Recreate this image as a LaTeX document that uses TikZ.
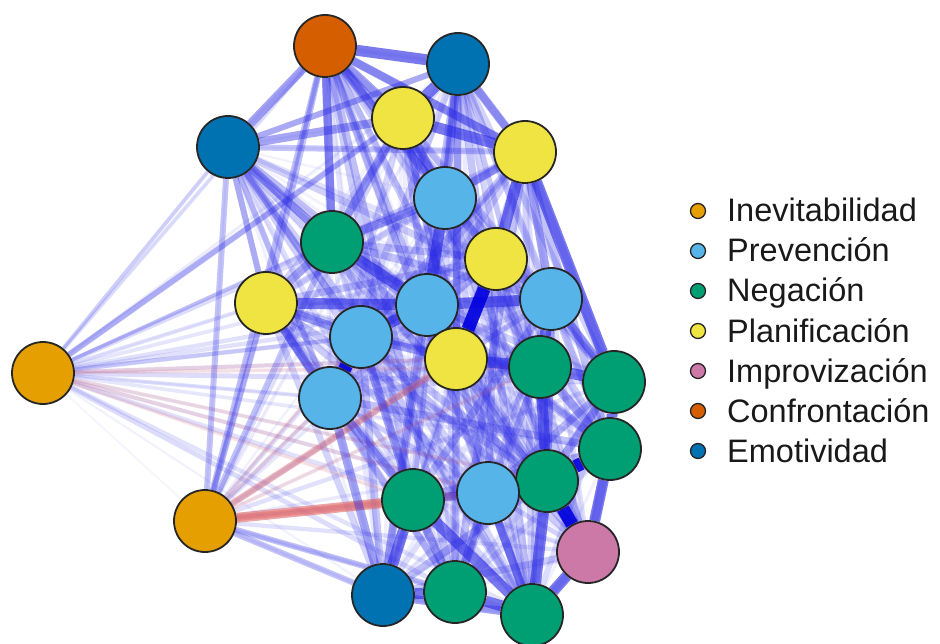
\documentclass[tikz,border=0pt]{standalone}
\usepackage{fontspec}
\setmainfont{Liberation Sans}
\definecolor{cinev}{HTML}{E69F00}
\definecolor{cprev}{HTML}{56B4E9}
\definecolor{cneg}{HTML}{009E73}
\definecolor{cplan}{HTML}{F0E442}
\definecolor{cimp}{HTML}{CC79A7}
\definecolor{cconf}{HTML}{D55E00}
\definecolor{cemo}{HTML}{0072B2}
\definecolor{eblue}{RGB}{40,40,228}
\definecolor{edark}{RGB}{0,0,222}
\definecolor{ered}{RGB}{225,105,105}
\pgfdeclarelayer{bg}
\pgfsetlayers{bg,main}
\tikzset{
  vtx/.style={circle, draw=black!85, line width=1.8pt, minimum size=62pt, inner sep=0pt},
  edgedark/.style={edark, line width=13pt, opacity=0.9},
  edgestrong/.style={eblue, line width=11pt, opacity=0.62},
  edgemed/.style={eblue, line width=8.5pt, opacity=0.42},
  edgelight/.style={eblue, line width=6pt, opacity=0.28},
  edgefaint/.style={eblue, line width=4pt, opacity=0.14},
  redthick/.style={ered, line width=10pt, opacity=0.6},
  redmed/.style={ered, line width=6.5pt, opacity=0.45},
  redlight/.style={ered, line width=4pt, opacity=0.16},
  legdot/.style={circle, draw=black!85, line width=1.3pt, minimum size=15pt, inner sep=0pt},
  legtxt/.style={text=black!90, inner sep=0pt, font=\fontsize{32.5}{38}\selectfont}
}
\begin{document}
\begin{tikzpicture}[x=1pt,y=-1pt]
\useasboundingbox (0,0) rectangle (940,644);
% nodes
\node[vtx, fill=cconf] (n1) at (325,46) {};
\node[vtx, fill=cemo]  (n2) at (458,64) {};
\node[vtx, fill=cemo]  (n3) at (228,147) {};
\node[vtx, fill=cplan] (n4) at (403,118) {};
\node[vtx, fill=cplan] (n5) at (525,152) {};
\node[vtx, fill=cprev] (n6) at (445,198) {};
\node[vtx, fill=cneg]  (n7) at (332,242) {};
\node[vtx, fill=cplan] (n8) at (496,259) {};
\node[vtx, fill=cplan] (n9) at (266,303) {};
\node[vtx, fill=cprev] (n10) at (427,305) {};
\node[vtx, fill=cprev] (n11) at (551,299) {};
\node[vtx, fill=cprev] (n12) at (361,337) {};
\node[vtx, fill=cplan] (n13) at (456,359) {};
\node[vtx, fill=cneg]  (n14) at (540,367) {};
\node[vtx, fill=cneg]  (n15) at (614,382) {};
\node[vtx, fill=cinev] (n16) at (43,373) {};
\node[vtx, fill=cprev] (n17) at (330,398) {};
\node[vtx, fill=cneg]  (n18) at (610,449) {};
\node[vtx, fill=cneg]  (n19) at (547,481) {};
\node[vtx, fill=cprev] (n20) at (488,493) {};
\node[vtx, fill=cneg]  (n21) at (413,500) {};
\node[vtx, fill=cinev] (n22) at (205,521) {};
\node[vtx, fill=cimp]  (n23) at (588,552) {};
\node[vtx, fill=cemo]  (n24) at (383,595) {};
\node[vtx, fill=cneg]  (n25) at (455,592) {};
\node[vtx, fill=cneg]  (n26) at (532,615) {};
% edges
\begin{pgfonlayer}{bg}
\pgfmathsetseed{12}
\foreach \i in {1,...,25}{
  \pgfmathtruncatemacro\s{\i+1}
  \foreach \j in {\s,...,26}{
    \pgfmathsetmacro\w{rnd}
    \pgfmathtruncatemacro\isf{(\i==16)||(\i==22)||(\j==16)||(\j==22)}
    \ifnum\isf=1
      \pgfmathsetmacro\lw{1.5+3.5*\w}
      \pgfmathsetmacro\op{0.04+0.12*\w}
    \else
      \pgfmathsetmacro\lw{2+6*\w}
      \pgfmathsetmacro\op{0.06+0.24*\w*\w}
    \fi
    \draw[eblue, line width=\lw pt, opacity=\op] (n\i) -- (n\j);
  }
}
\foreach \a/\b in {22/19,22/14,22/17,22/12,16/21,16/20,16/19,16/13,16/14}
  \draw[redlight] (n\a) -- (n\b);
\foreach \a/\b in {3/16,16/9,16/7,16/12,16/17,16/1}
  \draw[edgefaint] (n\a) -- (n\b);
\foreach \a/\b in {3/9,3/12,3/17,3/22,2/3,3/5,1/9,1/10,16/4,22/24,22/7,22/1,22/9,22/25}
  \draw[edgelight] (n\a) -- (n\b);
\foreach \a/\b in {22/13,22/20}
  \draw[redmed] (n\a) -- (n\b);
\draw[redthick] (n22) -- (n21);
\foreach \a/\b in {1/3,1/4,1/5,1/6,1/7,2/5,2/6,3/4,3/7,4/6,4/7,5/6,6/8,6/7,7/9,9/12,9/17,11/15,8/11,12/13,17/21,20/21,20/19,20/25,20/26,21/25,24/26,5/11,17/24,12/21,11/19,14/18,15/19}
  \draw[edgemed] (n\a) -- (n\b);
\foreach \a/\b in {1/2,4/5,5/8,6/10,7/10,9/10,10/11,10/13,10/12,13/14,14/19,21/26,24/25,25/26,21/24,19/26,23/26,11/14,14/15,15/18,18/23,5/15,2/4}
  \draw[edgestrong] (n\a) -- (n\b);
\foreach \a/\b in {8/13,12/17,19/23,18/19}
  \draw[edgedark] (n\a) -- (n\b);
\end{pgfonlayer}
% legend
\foreach \k/\c/\t in {0/cinev/Inevitabilidad,1/cprev/Prevención,2/cneg/Negación,3/cplan/Planificación,4/cimp/Improvización,5/cconf/Confrontación,6/cemo/Emotividad}{
  \node[legdot, fill=\c] (d\k) at (698,{211+40*\k}) {};
  \node[legtxt, anchor=base west] (t\k) at (727,{222+40*\k}) {\t};
}
\end{tikzpicture}
\end{document}
